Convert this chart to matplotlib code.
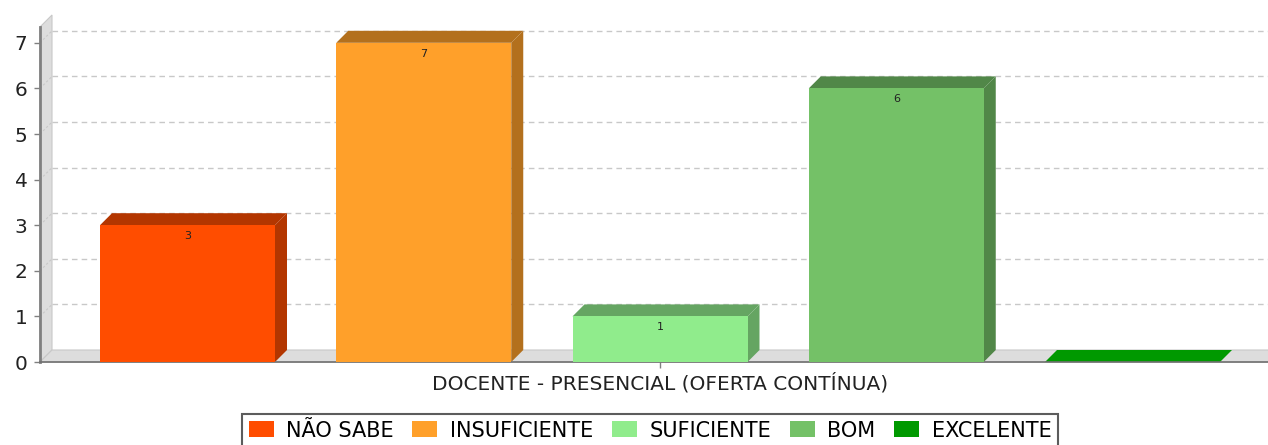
import matplotlib
matplotlib.use("Agg")
import matplotlib.pyplot as plt
from matplotlib.patches import Polygon, Rectangle
import numpy as np

# ----------------------------------------------------
# data
# ----------------------------------------------------
categories = ["NÃO SABE", "INSUFICIENTE", "SUFICIENTE", "BOM", "EXCELENTE"]
values = [3, 7, 1, 6, 0]
colors = ["#FF4D00", "#FFA02A", "#90EC8C", "#74C167", "#009900"]
dark_colors = ["#B33600", "#B3701D", "#65A562", "#518748", "#006B00"]
group_label = "DOCENTE - PRESENCIAL (OFERTA CONTÍNUA)"
yticks = [0, 1, 2, 3, 4, 5, 6, 7]

# ----------------------------------------------------
# figure / axes layout (pixels -> figure fractions)
# ----------------------------------------------------
W, H = 1268, 445
fig = plt.figure(figsize=(W / 100, H / 100), dpi=100)
ax_left, ax_top, ax_bottom = 40, 27, 362
ax = fig.add_axes([ax_left / W, 1 - ax_bottom / H, (W - ax_left) / W, (ax_bottom - ax_top) / H])

px_per_y = 45.6
px_per_x = 236.25
ymax = (ax_bottom - ax_top) / px_per_y
xmin = -(187.5 - ax_left) / px_per_x
xmax = xmin + (W - ax_left) / px_per_x
ax.set_xlim(xmin, xmax)
ax.set_ylim(0, ymax)

dx = 12 / px_per_x   # 3D depth offset
dy = 12 / px_per_y
bar_w = 175 / px_per_x

# walls
wall_c = "#DDDDDD"
wall_e = "#C8C8C8"
ax.add_patch(Polygon([(xmin, 0), (xmin + dx, dy), (xmin + dx, ymax + dy), (xmin, ymax)],
                     closed=True, fc=wall_c, ec=wall_e, lw=0.8, clip_on=False, zorder=1))
ax.add_patch(Polygon([(xmin, 0), (xmin + dx, dy), (xmax + 1, dy), (xmax + 1, 0)],
                     closed=True, fc=wall_c, ec=wall_e, lw=0.8, clip_on=False, zorder=1))

# gridlines on back plane and on wall
for t in yticks[1:]:
    ax.plot([xmin + dx, xmax], [t + dy, t + dy], ls=(0, (4, 3)), color="#C8C8C8", lw=1.0, zorder=1.5)
    ax.plot([xmin, xmin + dx], [t, t + dy], ls=(0, (2, 2)), color="#C8C8C8", lw=0.8, zorder=1.5)

# bars
x = np.arange(len(categories))
for i, v in enumerate(values):
    l, r = x[i] - bar_w / 2, x[i] + bar_w / 2
    if v > 0:
        ax.add_patch(Polygon([(r, 0), (r + dx, dy), (r + dx, v + dy), (r, v)],
                             closed=True, fc=dark_colors[i], ec="none", zorder=2))
        ax.add_patch(Polygon([(l, v), (l + dx, v + dy), (r + dx, v + dy), (r, v)],
                             closed=True, fc=dark_colors[i], ec="none", zorder=2))
        ax.add_patch(Rectangle((l, 0), bar_w, v, fc=colors[i], ec="none", zorder=3))
        ax.text(x[i], v - 11 / px_per_y, str(v), ha="center", va="center",
                fontsize=8, color="#222222", zorder=4)
    else:
        ax.add_patch(Polygon([(l, 0), (l + dx, dy), (r + dx, dy), (r, 0)],
                             closed=True, fc=colors[i], ec="none", zorder=2))

# axes styling
for s in ["top", "right"]:
    ax.spines[s].set_visible(False)
ax.spines["left"].set_color("#808080")
ax.spines["left"].set_linewidth(2)
ax.spines["bottom"].set_color("#707070")
ax.spines["bottom"].set_linewidth(1.2)
ax.set_yticks(yticks)
ax.tick_params(axis="y", labelsize=14.5, length=4, width=1, color="#808080", pad=5, labelcolor="#222222")
ax.set_xticks([2])
ax.set_xticklabels([group_label])
ax.tick_params(axis="x", labelsize=14.5, length=4, width=1, color="#808080", pad=4, labelcolor="#222222")

# legend
handles = [Rectangle((0, 0), 1, 1, fc=c, ec="none") for c in colors]
leg = fig.legend(handles, categories, loc="upper center", bbox_to_anchor=(650 / W, 1 - 404 / H),
                 ncol=5, fontsize=15, frameon=True, fancybox=False, edgecolor="#333333",
                 handlelength=1.2, handleheight=0.8, handletextpad=0.6, columnspacing=0.9,
                 borderpad=0.3)
leg.get_frame().set_linewidth(1.5)

fig.savefig("out.png", dpi=100)
